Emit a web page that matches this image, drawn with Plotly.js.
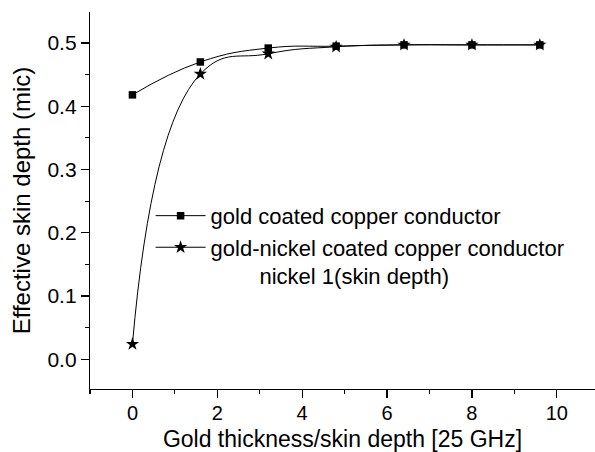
<!DOCTYPE html>
<html>
<head>
<meta charset="utf-8">
<script src="https://cdn.plot.ly/plotly-3.0.1.min.js"></script>
<style>html,body{margin:0;padding:0;background:#fff}#chart{width:595px;height:452px}</style>
</head>
<body>
<div id="chart"></div>
<script>
// Data
var thickness = [0, 1.6, 3.2, 4.8, 6.4, 8.0, 9.6];
var goldCopper = [0.418, 0.470, 0.492, 0.495, 0.497, 0.497, 0.497];
var goldNickelCopper = [0.024, 0.451, 0.483, 0.494, 0.497, 0.497, 0.497];
var seriesNames = ["gold coated copper conductor",
  "gold-nickel coated copper conductor<br>&nbsp;&nbsp;&nbsp;&nbsp;&nbsp;&nbsp;&nbsp;&nbsp;nickel 1(skin depth)"];
var xTitle = "Gold thickness/skin depth [25 GHz]";
var yTitle = "Effective skin depth (mic)";

var font = "Liberation Sans, Arial, sans-serif";

var traces = [
  {
    x: thickness, y: goldCopper, name: seriesNames[0],
    mode: "lines+markers", type: "scatter",
    line: {color: "#000", width: 1, shape: "spline", smoothing: 1.3},
    marker: {symbol: "square", size: 7.5, color: "#000"}
  },
  {
    x: thickness, y: goldNickelCopper, name: seriesNames[1],
    mode: "lines+markers", type: "scatter",
    line: {color: "#000", width: 1, shape: "spline", smoothing: 1.3},
    marker: {symbol: "star", size: 10, color: "#000"}
  }
];

var layout = {
  width: 595, height: 452,
  margin: {l: 90, r: 0, t: 12, b: 63},
  paper_bgcolor: "#fff", plot_bgcolor: "#fff",
  font: {family: font, color: "#000", size: 21},
  showlegend: true,
  legend: {
    x: 0.12, y: 0.515, xanchor: "left", yanchor: "top",
    bgcolor: "rgba(0,0,0,0)", font: {size: 22, family: font},
    valign: "top", itemwidth: 50, tracegroupgap: 0
  },
  xaxis: {
    range: [-1, 10.9], showgrid: false, zeroline: false,
    showline: true, linecolor: "#000", linewidth: 1.2,
    ticks: "outside", ticklen: 8, tickwidth: 1.2, tickcolor: "#000",
    dtick: 2, tick0: 0, ticklabelstandoff: -2,
    minor: {ticks: "outside", ticklen: 4, dtick: 1, tickcolor: "#000", tickwidth: 1.2},
    tickfont: {size: 20},
    title: {text: xTitle, font: {size: 23}, standoff: 9}
  },
  yaxis: {
    range: [-0.047, 0.549], showgrid: false, zeroline: false,
    showline: true, linecolor: "#000", linewidth: 1.2,
    ticks: "outside", ticklen: 8, tickwidth: 1.2, tickcolor: "#000",
    dtick: 0.1, tick0: 0, tickformat: ".1f",
    minor: {ticks: "outside", ticklen: 4, dtick: 0.05, tickcolor: "#000", tickwidth: 1.2},
    tickfont: {size: 21},
    title: {text: yTitle, font: {size: 24}, standoff: 10}
  }
};

Plotly.newPlot("chart", traces, layout, {displayModeBar: false, staticPlot: true});
</script>
</body>
</html>
